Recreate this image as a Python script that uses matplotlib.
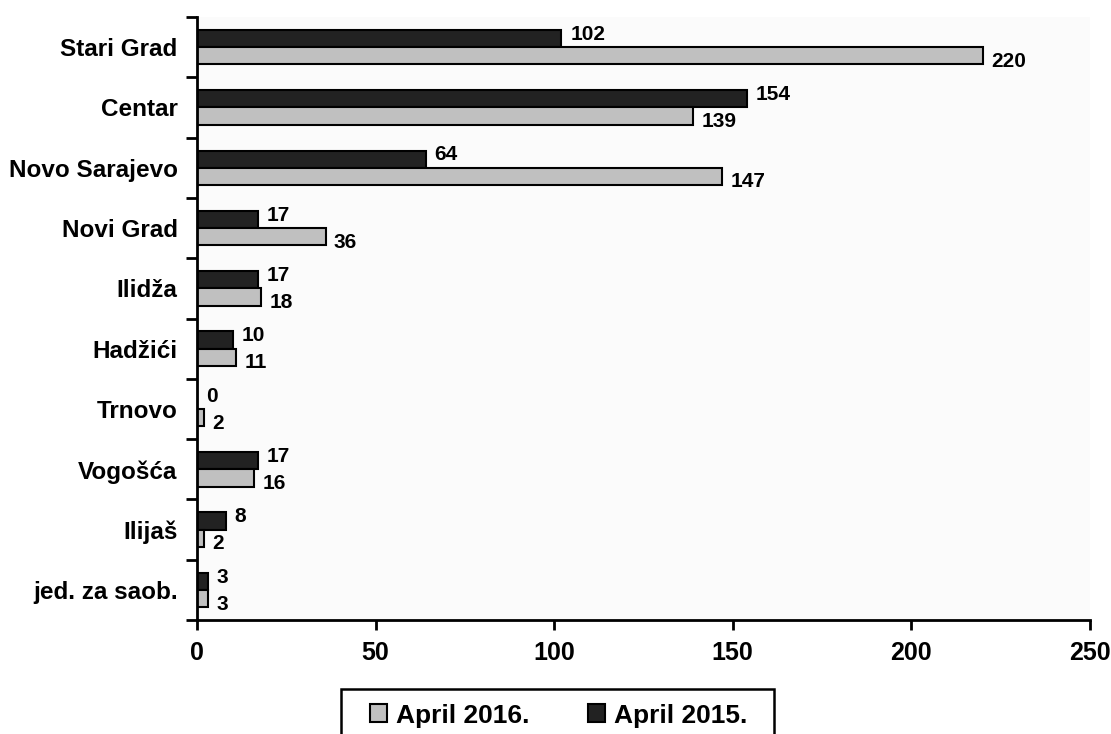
import numpy as np
import matplotlib
matplotlib.use('Agg')
import matplotlib.pyplot as plt
from matplotlib.patches import Patch, Rectangle

# data (top to bottom)
categories = ['Stari Grad', 'Centar', 'Novo Sarajevo', 'Novi Grad', 'Ilidža',
              'Hadžići', 'Trnovo', 'Vogošća', 'Ilijaš', 'jed. za saob.']
april_2015 = [102, 154, 64, 17, 17, 10, 0, 17, 8, 3]
april_2016 = [220, 139, 147, 36, 18, 11, 2, 16, 2, 3]
x_ticks = [0, 50, 100, 150, 200, 250]

plt.rcParams['font.family'] = ['Liberation Sans', 'DejaVu Sans']
plt.rcParams['font.weight'] = 'bold'

fig = plt.figure(figsize=(11.11, 7.34), dpi=100)
ax = fig.add_axes([0.1773, 0.1553, 0.8037, 0.8215])
ax.set_facecolor('#fbfbfb')

y = np.arange(len(categories))
h = 0.286
dark = '#222222'
light = '#c0c0c0'

ax.barh(y - h / 2, april_2015, height=h, color=dark, edgecolor='black', linewidth=1.5)
ax.barh(y + h / 2, april_2016, height=h, color=light, edgecolor='black', linewidth=1.5)

# value labels
for i in range(len(categories)):
    ax.annotate(str(april_2015[i]), (april_2015[i], y[i] - h / 2),
                xytext=(6.5, 3), textcoords='offset points',
                ha='left', va='center', fontsize=15, fontweight='bold')
    ax.annotate(str(april_2016[i]), (april_2016[i], y[i] + h / 2),
                xytext=(6, -4), textcoords='offset points',
                ha='left', va='center', fontsize=15, fontweight='bold')

ax.set_xlim(0, 250)
ax.set_ylim(len(categories) - 0.5, -0.5)

ax.set_xticks(x_ticks)
ax.set_xticklabels([str(t) for t in x_ticks], fontsize=18, fontweight='bold')
ax.tick_params(axis='x', direction='out', length=7, width=2, pad=8)

ax.set_yticks(y)
ax.set_yticklabels(categories, fontsize=17.5, fontweight='bold')
ax.set_yticks(np.arange(-0.5, len(categories), 1), minor=True)
ax.tick_params(axis='y', which='major', length=0, pad=14)
ax.tick_params(axis='y', which='minor', direction='out', length=8, width=2)

for s in ['top', 'right']:
    ax.spines[s].set_visible(False)
for s in ['left', 'bottom']:
    ax.spines[s].set_linewidth(2)

# legend (frame drawn separately, it runs off the bottom edge)
handles = [Patch(facecolor=light, edgecolor='black', linewidth=1.5),
           Patch(facecolor=dark, edgecolor='black', linewidth=1.5)]
leg = fig.legend(handles, ['April 2016.', 'April 2015.'], loc='upper center',
                 bbox_to_anchor=(0.503, 0.0613), ncol=2,
                 prop={'weight': 'bold', 'size': 19},
                 handlelength=0.65, handleheight=0.65, handletextpad=0.35,
                 columnspacing=2.2, borderpad=0.55, frameon=False,
                 borderaxespad=0)
fig.patches.append(Rectangle((341 / 1111, -0.02), 433 / 1111, 0.0613 + 0.02,
                             transform=fig.transFigure, facecolor='white',
                             edgecolor='black', linewidth=1.8, zorder=0))

fig.savefig('out.png', dpi=100)
